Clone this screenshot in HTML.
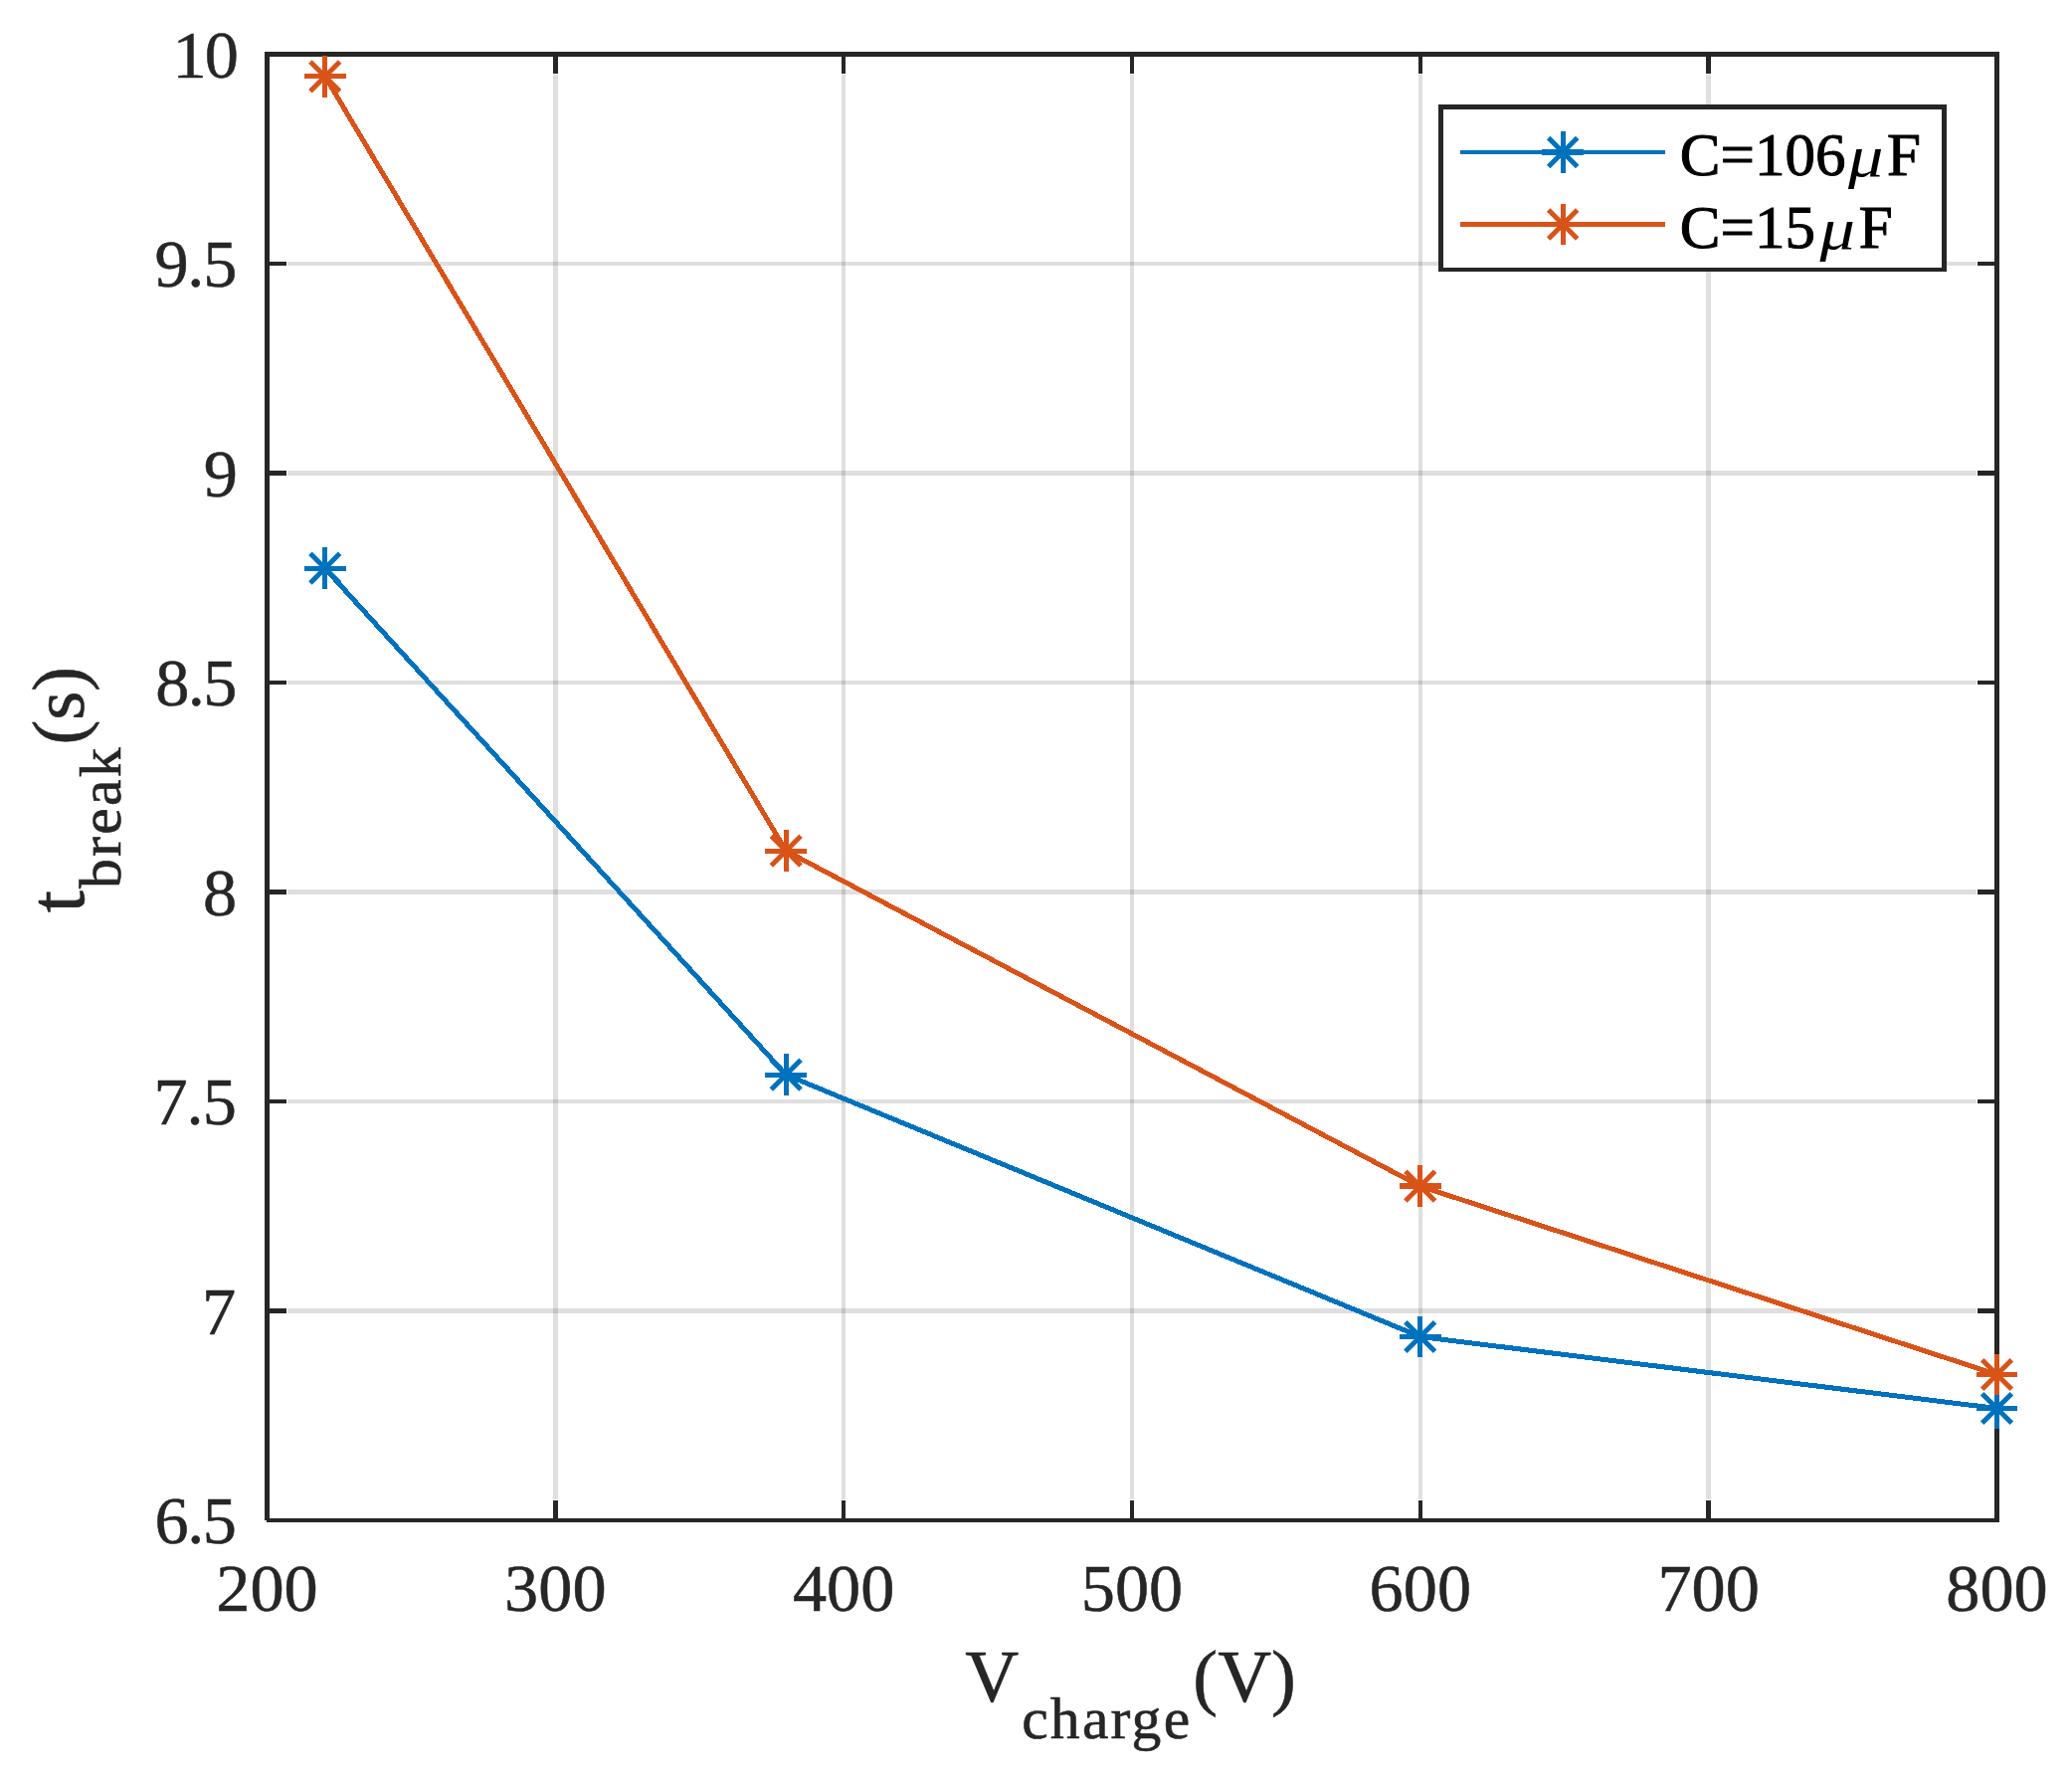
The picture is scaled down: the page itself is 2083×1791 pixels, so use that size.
<!DOCTYPE html>
<html lang="en"><head><meta charset="utf-8"><title>t_break vs V_charge</title>
<style>html,body{margin:0;padding:0;background:#fff;width:2083px;height:1791px;overflow:hidden}svg{display:block}text{font-family:"Liberation Serif","Times New Roman",serif}</style></head><body>
<svg width="2083" height="1791" viewBox="0 0 2083 1791">
<rect width="2083" height="1791" fill="#fff"/>
<g fill="rgba(38,38,38,0.15)" shape-rendering="crispEdges">
<rect x="556" y="75" width="5" height="1432"/>
<rect x="846" y="75" width="4" height="1432"/>
<rect x="1136" y="75" width="4" height="1432"/>
<rect x="1426" y="75" width="4" height="1432"/>
<rect x="1715" y="75" width="5" height="1432"/>
<rect x="289" y="1315" width="1698" height="5"/>
<rect x="289" y="1105" width="1698" height="4"/>
<rect x="289" y="894" width="1698" height="5"/>
<rect x="289" y="684" width="1698" height="4"/>
<rect x="289" y="473" width="1698" height="5"/>
<rect x="289" y="263" width="1698" height="4"/>
</g>
<g fill="#262626" shape-rendering="crispEdges">
<rect x="266" y="52" width="5" height="1476"/>
<rect x="2005" y="52" width="5" height="1478"/>
<rect x="266" y="52" width="1744" height="5"/>
<rect x="268" y="1526" width="1742" height="4"/>
<rect x="556" y="52" width="5" height="22"/>
<rect x="556" y="1508" width="5" height="22"/>
<rect x="846" y="52" width="4" height="22"/>
<rect x="846" y="1508" width="4" height="22"/>
<rect x="1136" y="52" width="4" height="22"/>
<rect x="1136" y="1508" width="4" height="22"/>
<rect x="1426" y="52" width="4" height="22"/>
<rect x="1426" y="1508" width="4" height="22"/>
<rect x="1715" y="52" width="5" height="22"/>
<rect x="1715" y="1508" width="5" height="22"/>
<rect x="266" y="1315" width="22" height="5"/>
<rect x="1988" y="1315" width="22" height="5"/>
<rect x="266" y="1105" width="22" height="4"/>
<rect x="1988" y="1105" width="22" height="4"/>
<rect x="266" y="894" width="22" height="5"/>
<rect x="1988" y="894" width="22" height="5"/>
<rect x="266" y="684" width="22" height="4"/>
<rect x="1988" y="684" width="22" height="4"/>
<rect x="266" y="473" width="22" height="5"/>
<rect x="1988" y="473" width="22" height="5"/>
<rect x="266" y="263" width="22" height="4"/>
<rect x="1988" y="263" width="22" height="4"/>
</g>
<polyline points="326.75,571.20 790.20,1080.20 1427.75,1343.50 2007.50,1415.50" fill="none" stroke="#0072BD" stroke-width="5.0" stroke-linejoin="round" shape-rendering="crispEdges"/>
<path d="M306 571.5H348M326.5 550V592M311.90 556.35L341.60 586.05M311.90 586.05L341.60 556.35M769 1080.5H811M790.5 1059V1101M775.35 1065.35L805.05 1095.05M775.35 1095.05L805.05 1065.35M1407 1343.5H1449M1427.5 1323V1364M1412.90 1328.65L1442.60 1358.35M1412.90 1358.35L1442.60 1328.65M1987 1415.5H2028M2007.5 1395V1436M1992.65 1400.65L2022.35 1430.35M1992.65 1430.35L2022.35 1400.65" fill="none" stroke="#0072BD" stroke-width="5"/>
<polyline points="326.75,76.80 790.20,855.20 1427.75,1192.20 2007.50,1381.50" fill="none" stroke="#D95319" stroke-width="5.0" stroke-linejoin="round" shape-rendering="crispEdges"/>
<path d="M306 76.5H348M326.5 56V98M311.90 61.95L341.60 91.65M311.90 91.65L341.60 61.95M769 855.5H811M790.5 834V876M775.35 840.35L805.05 870.05M775.35 870.05L805.05 840.35M1407 1192.5H1449M1427.5 1171V1213M1412.90 1177.35L1442.60 1207.05M1412.90 1207.05L1442.60 1177.35M1987 1381.5H2028M2007.5 1361V1402M1992.65 1366.65L2022.35 1396.35M1992.65 1396.35L2022.35 1366.65" fill="none" stroke="#D95319" stroke-width="5"/>
<rect x="1407" y="1189" width="42" height="6" fill="#D95319" shape-rendering="crispEdges"/>
<rect x="1446" y="105" width="511" height="168" fill="#262626" shape-rendering="crispEdges"/><rect x="1451" y="110" width="501" height="159" fill="#fff" shape-rendering="crispEdges"/>
<g fill="#0072BD" shape-rendering="crispEdges"><rect x="1468" y="151" width="206" height="4"/><rect x="1550" y="150" width="42" height="6"/><rect x="1569" y="132" width="5" height="42"/></g>
<path d="M1556.70 138.50L1585.70 167.50M1556.70 167.50L1585.70 138.50" fill="none" stroke="#0072BD" stroke-width="5"/>
<g fill="#D95319" shape-rendering="crispEdges"><rect x="1468" y="223" width="206" height="5"/><rect x="1550" y="223" width="42" height="5"/><rect x="1569" y="205" width="5" height="41"/></g>
<path d="M1556.70 211.00L1585.70 240.00M1556.70 240.00L1585.70 211.00" fill="none" stroke="#D95319" stroke-width="5"/>
<g font-size="61" fill="#000" stroke="#000" stroke-width="1.0">
<text x="1688.8" y="176.1">C=106<tspan x="1858.1" y="177.1" font-size="59" font-style="italic" stroke="none" textLength="35.4" lengthAdjust="spacingAndGlyphs">μ</tspan><tspan x="1897" y="176.1">F</tspan></text>
<text x="1688.8" y="248.8">C=15<tspan x="1829.5" y="249.8" font-size="59" font-style="italic" stroke="none" textLength="35.4" lengthAdjust="spacingAndGlyphs">μ</tspan><tspan x="1868.8" y="248.8">F</tspan></text>
</g>
<g font-size="68.3" fill="#262626" stroke="#262626" stroke-width="0.5">
<g text-anchor="middle">
<text x="268.50" y="1619.2">200</text>
<text x="558.33" y="1619.2">300</text>
<text x="848.17" y="1619.2">400</text>
<text x="1138.00" y="1619.2">500</text>
<text x="1427.83" y="1619.2">600</text>
<text x="1717.67" y="1619.2">700</text>
<text x="2007.50" y="1619.2">800</text>
</g><g text-anchor="end">
<text x="237.80" y="77.70" letter-spacing="-2.0">10</text>
<text x="237.00" y="288.20" letter-spacing="-1.3">9.5</text>
<text x="238.90" y="498.70" letter-spacing="0">9</text>
<text x="236.80" y="709.20" letter-spacing="-1.6">8.5</text>
<text x="238.10" y="919.70" letter-spacing="0">8</text>
<text x="236.80" y="1130.20" letter-spacing="-1.0">7.5</text>
<text x="237.10" y="1340.70" letter-spacing="0">7</text>
<text x="236.20" y="1551.20" letter-spacing="-1.6">6.5</text>
</g></g>
<g font-size="74.6" fill="#262626" stroke="#262626" stroke-width="0.6">
<text x="970.3" y="1710.1">V<tspan font-size="59.7" dy="36.9" dx="3" letter-spacing="2.2">charge</tspan><tspan dy="-36.9" dx="1">(V)</tspan></text>
<text transform="translate(83.9,917.3) rotate(-90)" x="0" y="0"><tspan font-size="80">t</tspan><tspan font-size="59.7" dy="36.6" dx="2" letter-spacing="2.3">break</tspan><tspan dy="-36.6" dx="0.5">(s)</tspan></text>
</g>
</svg></body></html>
